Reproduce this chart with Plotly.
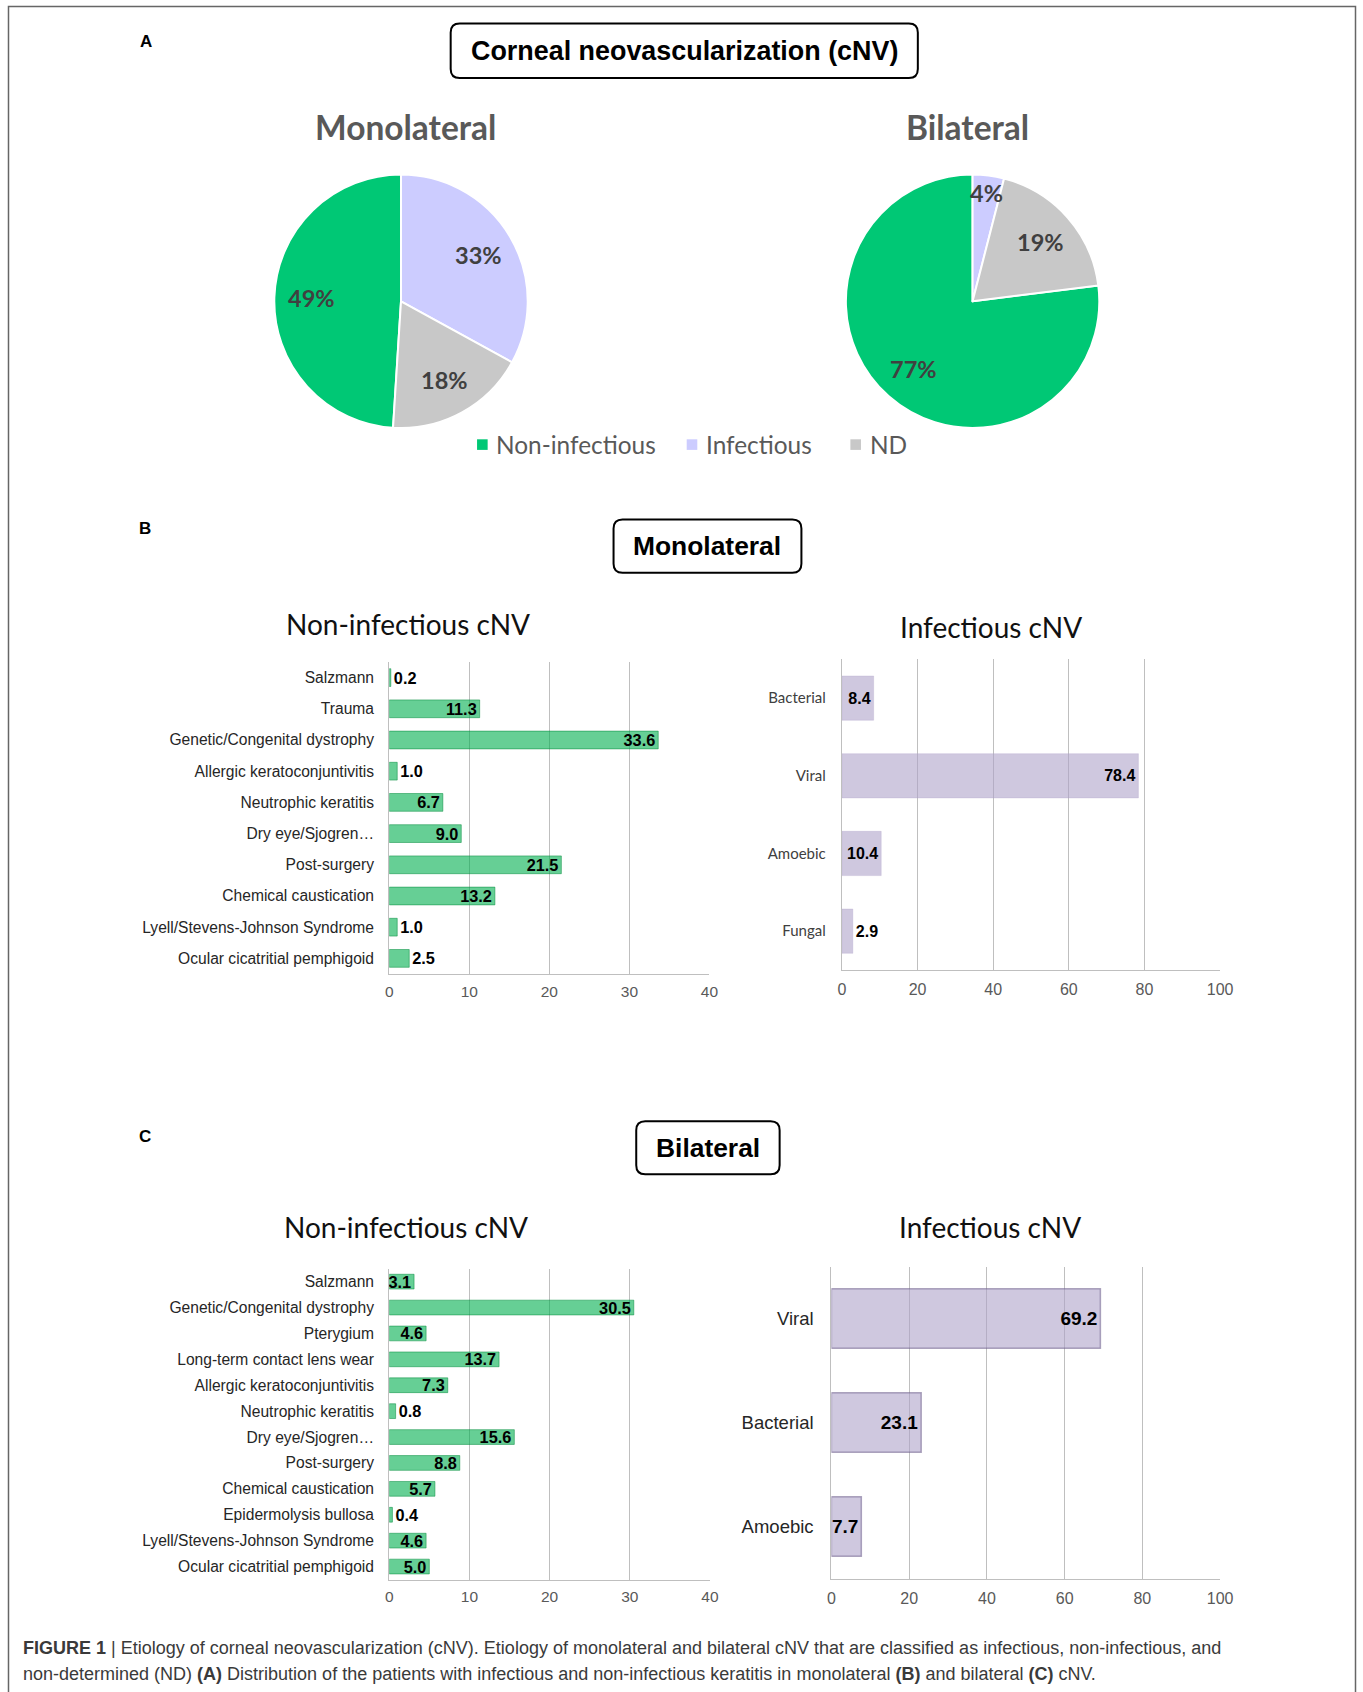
import math
import plotly.graph_objects as go

# Target positions below are measured in reference pixels (1363 x 1692).
# The captured page comes out slightly squeezed horizontally, so the figure is
# laid out a little wider in CSS pixels and positions are mapped through px().
REF_W, REF_H = 1363, 1692
FIG_W, FIG_H = 1379, 1692
X_SHIFT = 3

# ---------------- data ----------------
pie_labels = ["Non-infectious", "Infectious", "ND"]
pie_colors = ["#00C875", "#CCCCFF", "#C8C8C8"]
mono_share = [49, 33, 18]
bil_share = [77, 4, 19]

b_noninf_cats = ["Salzmann", "Trauma", "Genetic/Congenital dystrophy",
                 "Allergic keratoconjuntivitis", "Neutrophic keratitis",
                 "Dry eye/Sjogren\u2026", "Post-surgery", "Chemical caustication",
                 "Lyell/Stevens-Johnson Syndrome", "Ocular cicatritial pemphigoid"]
b_noninf_vals = [0.2, 11.3, 33.6, 1.0, 6.7, 9.0, 21.5, 13.2, 1.0, 2.5]

b_inf_cats = ["Bacterial", "Viral", "Amoebic", "Fungal"]
b_inf_vals = [8.4, 78.4, 10.4, 2.9]

c_noninf_cats = ["Salzmann", "Genetic/Congenital dystrophy", "Pterygium",
                 "Long-term contact lens wear", "Allergic keratoconjuntivitis",
                 "Neutrophic keratitis", "Dry eye/Sjogren\u2026", "Post-surgery",
                 "Chemical caustication", "Epidermolysis bullosa",
                 "Lyell/Stevens-Johnson Syndrome", "Ocular cicatritial pemphigoid"]
c_noninf_vals = [3.1, 30.5, 4.6, 13.7, 7.3, 0.8, 15.6, 8.8, 5.7, 0.4, 4.6, 5.0]

c_inf_cats = ["Viral", "Bacterial", "Amoebic"]
c_inf_vals = [69.2, 23.1, 7.7]

noninf_ticks = [0, 10, 20, 30, 40]
inf_ticks = [0, 20, 40, 60, 80, 100]


# ---------------- helpers ----------------
def px(x):
    return (x - X_SHIFT) / REF_W


def py(y):
    return 1 - y / REF_H


ARIAL = "Liberation Sans, Arial, sans-serif"
CALIBRI = "Lato, Carlito, Calibri, sans-serif"

fig = go.Figure()
annotations = []
shapes = []

# ---------------- pies ----------------
PIE_R = 126.8
PIE_CY = 301.3
pies = [("Monolateral", mono_share, 400.3, 405.0), ("Bilateral", bil_share, 972.3, 967.5)]
for name, vals, cx, title_x in pies:
    tot = sum(vals)
    rot = 360 * sum(vals[1:]) / tot
    fig.add_trace(go.Pie(
        labels=pie_labels, values=vals, name=name, sort=False,
        direction="clockwise", rotation=rot if rot <= 180 else rot - 360,
        marker=dict(colors=pie_colors, line=dict(color="white", width=2)),
        textinfo="none", hoverinfo="label+percent",
        domain=dict(x=[px(cx - PIE_R), px(cx + PIE_R)],
                    y=[py(PIE_CY + PIE_R), py(PIE_CY - PIE_R)]),
        showlegend=False,
    ))
    # percentage labels placed along each slice bisector
    ang = rot
    for v in vals:
        mid = math.radians(ang + 360 * v / tot / 2)
        f = 0.86 if v / tot < 0.08 else 0.71
        x = cx + f * PIE_R * math.sin(mid)
        y = PIE_CY - f * PIE_R * math.cos(mid)
        annotations.append(dict(
            x=px(x), y=py(y), xref="paper", yref="paper", showarrow=False,
            text=f"{v}%", xanchor="center", yanchor="middle",
            font=dict(family=CALIBRI, size=23.5, color="#404040", weight="bold")))
        ang += 360 * v / tot
    annotations.append(dict(
        x=px(title_x), y=py(127), xref="paper", yref="paper", showarrow=False,
        text=name, xanchor="center", yanchor="middle",
        font=dict(family=CALIBRI, size=33.5, color="#595959", weight="bold")))

# pie legend (shared by both pies)
LEG_Y = 444.6
for label, color, sq_x, txt_x in zip(pie_labels, pie_colors, [481.7, 691.5, 855.3],
                                     [493.0, 703.5, 867.5]):
    shapes.append(dict(type="rect", xref="paper", yref="paper",
                       x0=px(sq_x - 5.3), x1=px(sq_x + 5.3),
                       y0=py(LEG_Y + 5.3), y1=py(LEG_Y - 5.3),
                       fillcolor=color, line=dict(width=0)))
    annotations.append(dict(x=px(txt_x), y=py(LEG_Y), xref="paper", yref="paper",
                            showarrow=False, text=label, xanchor="left", yanchor="middle",
                            font=dict(family=CALIBRI, size=24.4, color="#595959")))

# ---------------- bars ----------------
GREEN_FILL = "rgba(0,175,78,0.6)"
GREEN_LINE = "rgba(0,140,60,0.5)"
LAV_FILL = "rgba(175,163,202,0.6)"


def bar(vals, cats, xa, ya, fill, line, lw, size):
    f = dict(family=ARIAL, size=size, color="black", weight="bold")
    return go.Bar(
        x=vals, y=cats, orientation="h", xaxis=xa, yaxis=ya,
        marker=dict(color=fill, line=dict(color=line, width=lw)),
        width=0.57, text=[f"{v:.1f}" for v in vals],
        textposition="auto", insidetextanchor="end", textangle=0,
        constraintext="none", cliponaxis=False, showlegend=False,
        textfont=f, insidetextfont=f, outsidetextfont=f,
        hoverinfo="x+y",
    )


fig.add_trace(bar(b_noninf_vals, b_noninf_cats, "x", "y", GREEN_FILL, GREEN_LINE, 1, 16.3))
fig.add_trace(bar(b_inf_vals, b_inf_cats, "x2", "y2", LAV_FILL, "rgba(175,163,202,0.3)", 1, 16))
fig.add_trace(bar(c_noninf_vals, c_noninf_cats, "x3", "y3", GREEN_FILL, GREEN_LINE, 1, 16.3))
fig.add_trace(bar(c_inf_vals, c_inf_cats, "x4", "y4", LAV_FILL, "rgba(110,95,140,0.55)", 1.5, 19))


def xaxis(x0, x1, rng, ticks, anchor, size, standoff):
    return dict(domain=[px(x0), px(x1)], range=rng, tickvals=ticks, anchor=anchor,
                showgrid=True, gridcolor="#BFBFBF", gridwidth=1.2, zeroline=False,
                showline=True, linecolor="#BFBFBF", linewidth=1.2, ticks="",
                tickfont=dict(family=ARIAL, size=size, color="#595959"),
                ticklabelstandoff=standoff, fixedrange=True)


def yaxis(y_top, y_bot, anchor, font, standoff):
    return dict(domain=[py(y_bot), py(y_top)], type="category", autorange="reversed",
                anchor=anchor, showgrid=False, zeroline=False, showline=True,
                linecolor="#BFBFBF", linewidth=1.2, ticks="", tickfont=font,
                ticklabelstandoff=standoff, fixedrange=True)


left_font = dict(family=ARIAL, size=15.6, color="#262626")
fig.update_layout(
    xaxis=xaxis(388.5, 709, [0, 40], noninf_ticks, "y", 15.5, 3),
    yaxis=yaxis(662, 974, "x", left_font, 11),
    xaxis2=xaxis(841.5, 1220, [0, 100], inf_ticks, "y2", 16, 5),
    yaxis2=yaxis(659.3, 970, "x2", dict(family=CALIBRI, size=15, color="#404040"), 12),
    xaxis3=xaxis(388.5, 709.5, [0, 40], noninf_ticks, "y3", 15.5, 3),
    yaxis3=yaxis(1268.7, 1579.5, "x3", left_font, 11),
    xaxis4=xaxis(831, 1220, [0, 100], inf_ticks, "y4", 16, 5),
    yaxis4=yaxis(1266.5, 1578.5, "x4", dict(family=ARIAL, size=18.5, color="#262626"), 13),
)

# subplot titles
for text, x, y in [("Non-infectious cNV", 406.8, 623.5), ("Infectious cNV", 990.7, 626.7),
                   ("Non-infectious cNV", 404.8, 1226.7), ("Infectious cNV", 990.0, 1226.7)]:
    annotations.append(dict(x=px(x), y=py(y), xref="paper", yref="paper", showarrow=False,
                            text=text, xanchor="center", yanchor="middle",
                            font=dict(family=CALIBRI, size=28, color="#111111")))

# panel letters
for text, x, y in [("A", 145.5, 41.5), ("B", 144.5, 529), ("C", 144.5, 1136.5)]:
    annotations.append(dict(x=px(x), y=py(y), xref="paper", yref="paper", showarrow=False,
                            text=text, xanchor="center", yanchor="middle",
                            font=dict(family=ARIAL, size=17, color="black", weight="bold")))


# rounded heading boxes
def rounded_box(x0, y0, x1, y1, r):
    X = lambda v: f"{px(v):.6f}"
    Y = lambda v: f"{py(v):.6f}"
    return (f"M {X(x0 + r)},{Y(y0)} L {X(x1 - r)},{Y(y0)} Q {X(x1)},{Y(y0)} {X(x1)},{Y(y0 + r)} "
            f"L {X(x1)},{Y(y1 - r)} Q {X(x1)},{Y(y1)} {X(x1 - r)},{Y(y1)} "
            f"L {X(x0 + r)},{Y(y1)} Q {X(x0)},{Y(y1)} {X(x0)},{Y(y1 - r)} "
            f"L {X(x0)},{Y(y0 + r)} Q {X(x0)},{Y(y0)} {X(x0 + r)},{Y(y0)} Z")


for text, x0, y0, x1, y1, fs in [("Corneal neovascularization (cNV)", 450, 23.5, 917.5, 78, 26.9),
                                 ("Monolateral", 613, 519.5, 801, 572.7, 26.4),
                                 ("Bilateral", 635.7, 1121.3, 779.2, 1174.2, 26.4)]:
    shapes.append(dict(type="path", xref="paper", yref="paper", path=rounded_box(x0, y0, x1, y1, 9),
                       line=dict(color="black", width=2), fillcolor="white", layer="below"))
    annotations.append(dict(x=px((x0 + x1) / 2), y=py((y0 + y1) / 2), xref="paper", yref="paper",
                            showarrow=False, text=text, xanchor="center", yanchor="middle",
                            font=dict(family=ARIAL, size=fs, color="black", weight="bold")))

# outer frame
shapes.append(dict(type="rect", xref="paper", yref="paper", x0=px(7.5), x1=px(1355.5),
                   y0=py(1720), y1=py(6.5), line=dict(color="#666666", width=1.5), layer="below"))

# caption
cap_font = dict(family=ARIAL, size=18, color="#3a3a3a")
annotations.append(dict(x=px(20.5), y=py(1648), xref="paper", yref="paper", showarrow=False,
                        xanchor="left", yanchor="middle", font=cap_font,
                        text="<b>FIGURE 1</b> | Etiology of corneal neovascularization (cNV). Etiology of monolateral "
                             "and bilateral cNV that are classified as infectious, non-infectious, and"))
annotations.append(dict(x=px(20.5), y=py(1674), xref="paper", yref="paper", showarrow=False,
                        xanchor="left", yanchor="middle", font=cap_font,
                        text="non-determined (ND) <b>(A)</b> Distribution of the patients with infectious and "
                             "non-infectious keratitis in monolateral <b>(B)</b> and bilateral <b>(C)</b> cNV."))

fig.update_layout(
    width=FIG_W, height=FIG_H, autosize=False,
    margin=dict(l=0, r=0, t=0, b=0, pad=0),
    paper_bgcolor="white", plot_bgcolor="white",
    annotations=annotations, shapes=shapes,
    showlegend=False,
    bargap=0.43,
)

fig.write_html(
    "out.html",
    config={"displayModeBar": False},
    post_script=("document.documentElement.style.margin='0';document.body.style.margin='0';"
                 "document.documentElement.style.overflow='hidden';document.body.style.overflow='hidden';"),
)
